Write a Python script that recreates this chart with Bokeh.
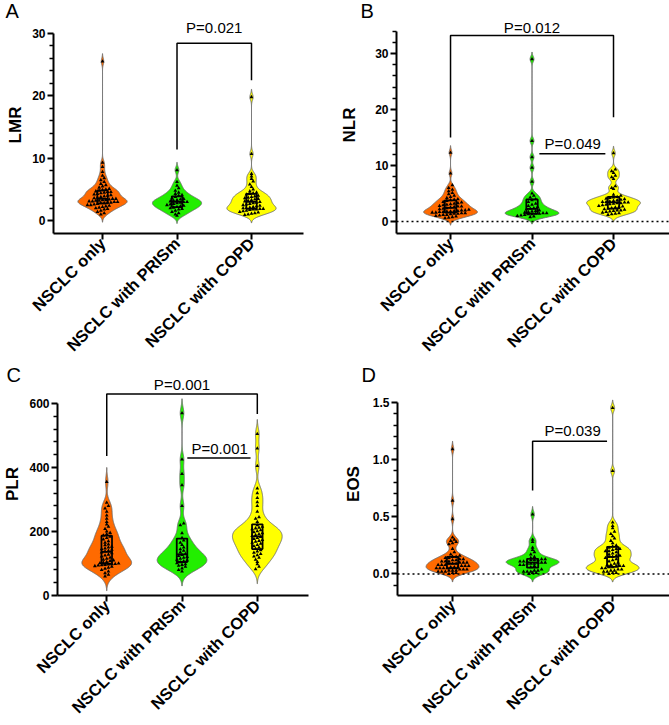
import numpy as np
from math import pi
from bokeh.plotting import figure
from bokeh.models import FixedTicker, Span
from bokeh.layouts import column, row
from bokeh.core.properties import value
from bokeh.embed import file_html
from bokeh.resources import INLINE

categories = ["NSCLC only", "NSCLC with PRISm", "NSCLC with COPD"]
colors = ["#FF6A00", "#22EE00", "#FFFF00"]

# ---- LMR ----
lmr_only = [25.5, 9.3, 8.6, 7.8, 7.2, 6.8, 6.5, 6.2, 5.9, 5.7, 5.5, 5.3, 5.1, 5.0, 4.9, 4.8, 4.7, 4.6, 4.6,
            4.5, 4.4, 4.3, 4.2, 4.1, 4.0, 3.9, 3.8, 3.7, 3.6, 3.5, 3.5, 3.4, 3.3, 3.3, 3.2, 3.2, 3.1, 3.1,
            3.0, 3.0, 2.9, 2.9, 2.8, 2.8, 2.7, 2.6, 2.5, 2.5, 2.4, 2.3, 2.2, 2.1, 2.0, 1.9, 1.8, 1.6, 1.4,
            1.2, 1.0]
lmr_prism = [8.1, 6.2, 5.6, 5.2, 4.8, 4.5, 4.3, 4.1, 4.0, 3.8, 3.6, 3.5, 3.4, 3.3, 3.2, 3.1, 3.0, 3.0, 2.9,
             2.8, 2.7, 2.6, 2.5, 2.4, 2.3, 2.2, 2.1, 2.0, 1.9, 1.8, 1.6, 1.4, 1.2, 1.0, 0.8]
lmr_copd = [19.8, 10.7, 7.5, 7.1, 6.7, 6.3, 5.8, 5.4, 5.0, 4.7, 4.5, 4.4, 4.3, 4.2, 4.0, 3.9, 3.8, 3.7, 3.6,
            3.5, 3.4, 3.3, 3.2, 3.1, 3.0, 2.9, 2.8, 2.7, 2.6, 2.5, 2.4, 2.3, 2.2, 2.1, 2.0, 2.0, 1.9, 1.9,
            1.8, 1.8, 1.7, 1.6, 1.5, 1.4, 1.3, 1.2, 1.1, 1.0, 0.9]
# ---- NLR ----
nlr_only = [12.3, 8.6, 6.5, 6.0, 5.7, 5.4, 5.1, 4.9, 4.6, 4.4, 4.2, 4.0, 3.9, 3.8, 3.7, 3.5, 3.4, 3.3, 3.2,
            3.1, 3.0, 2.9, 2.8, 2.7, 2.7, 2.6, 2.5, 2.4, 2.3, 2.2, 2.1, 2.0, 2.0, 1.9, 1.9, 1.8, 1.8, 1.7,
            1.7, 1.6, 1.6, 1.5, 1.5, 1.4, 1.4, 1.3, 1.2, 1.2, 1.1, 1.0, 0.9, 0.8, 0.7, 0.6]
nlr_prism = [29.0, 14.4, 11.5, 9.6, 7.1, 5.0, 4.6, 4.3, 4.0, 3.8, 3.5, 3.2, 3.0, 2.8, 2.6, 2.4, 2.3, 2.2,
             2.0, 1.9, 1.8, 1.7, 1.6, 1.5, 1.5, 1.4, 1.4, 1.3, 1.3, 1.2, 1.1, 1.0, 0.9, 0.8]
nlr_copd = [12.2, 9.3, 9.0, 8.7, 8.2, 7.9, 7.6, 6.3, 6.0, 5.8, 4.8, 4.6, 4.4, 4.3, 4.2, 4.1, 4.0, 3.9, 3.8,
            3.7, 3.6, 3.5, 3.5, 3.4, 3.4, 3.3, 3.3, 3.2, 3.1, 3.0, 2.9, 2.8, 2.7, 2.6, 2.5, 2.4, 2.3, 2.2,
            2.1, 2.0, 2.0, 1.9, 1.8, 1.7, 1.6, 1.5, 1.4, 1.3, 1.2]
# ---- PLR ----
plr_only = [355, 290, 280, 272, 262, 250, 240, 230, 222, 215, 208, 200, 196, 192, 188, 184, 180, 175, 170,
            165, 160, 157, 153, 150, 147, 145, 143, 140, 138, 135, 132, 128, 125, 122, 118, 115, 112, 110,
            108, 105, 103, 101, 100, 99, 98, 97, 96, 95, 94, 92, 90, 87, 84, 80, 75, 70, 65, 60]
plr_prism = [570, 425, 380, 345, 280, 225, 220, 195, 180, 172, 165, 158, 150, 145, 140, 135, 130, 127, 124,
             121, 118, 115, 112, 110, 107, 104, 101, 98, 96, 93, 90, 85, 80, 75]
plr_copd = [505, 460, 405, 335, 320, 305, 292, 280, 262, 245, 240, 230, 220, 215, 212, 210, 207, 204, 201,
            198, 195, 192, 189, 186, 183, 180, 177, 174, 171, 168, 165, 162, 158, 154, 150, 146, 142, 138,
            134, 130, 126, 122, 118, 112, 105, 98, 90, 82]
# ---- EOS ----
eos_only = [1.09, 0.64, 0.48, 0.32, 0.30, 0.29, 0.28, 0.27, 0.26, 0.22, 0.19, 0.17, 0.16, 0.15, 0.15, 0.14,
            0.14, 0.13, 0.13, 0.12, 0.12, 0.11, 0.11, 0.11, 0.10, 0.10, 0.10, 0.09, 0.09, 0.09, 0.08, 0.08,
            0.08, 0.07, 0.07, 0.07, 0.06, 0.06, 0.06, 0.05, 0.05, 0.05, 0.05, 0.04, 0.04, 0.04, 0.03, 0.03,
            0.03, 0.02, 0.02, 0.02, 0.01, 0.01, 0.00]
eos_prism = [0.52, 0.30, 0.28, 0.23, 0.21, 0.19, 0.17, 0.15, 0.14, 0.13, 0.13, 0.12, 0.12, 0.12, 0.11, 0.11,
             0.11, 0.10, 0.10, 0.10, 0.09, 0.09, 0.09, 0.08, 0.08, 0.07, 0.06, 0.04, 0.03, 0.03, 0.02, 0.02,
             0.02, 0.01, 0.01, 0.00]
eos_copd = [1.45, 0.90, 0.45, 0.42, 0.40, 0.37, 0.35, 0.33, 0.31, 0.29, 0.27, 0.25, 0.24, 0.23, 0.22, 0.22,
            0.21, 0.20, 0.20, 0.19, 0.18, 0.17, 0.16, 0.16, 0.15, 0.15, 0.14, 0.13, 0.12, 0.11, 0.10, 0.09,
            0.08, 0.08, 0.07, 0.07, 0.07, 0.06, 0.06, 0.05, 0.05, 0.04, 0.04, 0.03, 0.03, 0.02, 0.02, 0.01,
            0.01, 0.00]

# significance annotations: (x_from, x_to, bar_y, left_leg_bottom, right_leg_bottom, text, text_x, text_y)
lmr_sig = [(2, 3, 28.4, 11.4, 22.5, "P=0.021", 2.5, 30.9)]
nlr_sig = [(1, 3, 33.2, 15.0, 18.6, "P=0.012", 2.0, 34.7),
           (2.09, 2.90, 12.1, None, None, "P=0.049", 2.5, 13.9)]
plr_sig = [(1, 3, 630, 436, 567, "P=0.001", 2.0, 658),
           (2.07, 2.91, 430, None, None, "P=0.001", 2.5, 458)]
eos_sig = [(2, 2.93, 1.16, 0.73, None, "P=0.039", 2.5, 1.25)]

FONT = value("Liberation Sans")


def kde_profile(vals, bw, n=400):
    v = np.asarray(vals, dtype=float)
    ys = np.linspace(v.min() - 2.5 * bw, v.max() + 2.5 * bw, n)
    d = np.exp(-0.5 * ((ys[:, None] - v[None, :]) / bw) ** 2).sum(axis=1)
    return ys, d / d.max()


def swarm(vals, binh, step):
    v = np.sort(np.asarray(vals, dtype=float))
    keys = np.floor(v / binh + 0.5)
    offs = np.zeros(len(v))
    for k in np.unique(keys):
        idx = np.where(keys == k)[0]
        n = len(idx)
        offs[idx] = (np.arange(n) - (n - 1) / 2.0) * step
    return v, offs


def panel(letter, ylabel, groups, sig, width, height, borders, xr, yr, ticks, minors, bounds,
          bw, binh, title_standoff, title_offset, labels=None, zero_line=False, ylabel_standoff=6):
    bl, br, bt, bb = borders
    p = figure(width=width, height=height, x_range=xr, y_range=yr, output_backend="svg",
               toolbar_location=None, min_border_left=bl, min_border_right=br,
               min_border_top=bt, min_border_bottom=bb)
    p.grid.visible = False
    p.outline_line_color = None
    p.background_fill_color = "white"

    p.title.text = letter
    p.title.text_font = "Liberation Sans"
    p.title.text_font_size = "20px"
    p.title.text_font_style = "normal"
    p.title.text_color = "black"
    p.title.align = "left"
    p.title.vertical_align = "bottom"
    p.title.offset = title_offset
    p.title.standoff = title_standoff

    if zero_line:
        p.add_layout(Span(location=0, dimension="width", line_color="black", line_width=1.5,
                          line_dash="2 3"))

    halfw = 0.33
    for i, (vals, col) in enumerate(zip(groups, colors)):
        cx = i + 1
        ys, d = kde_profile(vals, bw)
        xs = np.concatenate([cx + halfw * d, (cx - halfw * d)[::-1]])
        yy = np.concatenate([ys, ys[::-1]])
        p.patch(xs, yy, fill_color=col, line_color="#6b6b6b", line_width=0.9)

    for i, vals in enumerate(groups):
        cx = i + 1
        v, offs = swarm(vals, binh, 0.045)
        p.scatter(cx + offs, v, marker="triangle", size=3.8, fill_color="black", line_color=None)
        q1, med, q3 = np.percentile(vals, [25, 50, 75])
        p.quad(left=[cx - 0.07], right=[cx + 0.07], bottom=[q1], top=[q3], fill_alpha=0,
               line_color="black", line_width=1.8)
        p.segment(x0=[cx - 0.07], x1=[cx + 0.07], y0=[med], y1=[med], line_color="black", line_width=1.8)

    for (x1, x2, yb, l1, l2, txt, tx, ty) in sig:
        px, py = [], []
        if l1 is not None:
            px.append(x1); py.append(l1)
        px += [x1, x2]; py += [yb, yb]
        if l2 is not None:
            px.append(x2); py.append(l2)
        p.line(px, py, line_color="black", line_width=1.5)
        p.text(x=[tx], y=[ty], text=[txt], text_align="center", text_baseline="middle",
               text_font=FONT, text_font_size="15px", text_color="black")

    ya = p.yaxis[0]
    ya.ticker = FixedTicker(ticks=ticks, minor_ticks=minors)
    ya.bounds = bounds
    if labels is not None:
        ya.major_label_overrides = labels
    ya.axis_label = ylabel
    ya.axis_label_text_font = "Liberation Sans"
    ya.axis_label_text_font_style = "bold"
    ya.axis_label_text_font_size = "17px"
    ya.axis_label_text_color = "black"
    ya.axis_label_standoff = ylabel_standoff
    ya.major_label_text_font = "Liberation Sans"
    ya.major_label_text_font_style = "bold"
    ya.major_label_text_font_size = "12px"
    ya.major_label_text_color = "black"
    ya.major_label_standoff = 2
    ya.axis_line_width = 2
    ya.major_tick_line_width = 2
    ya.major_tick_out = 6
    ya.major_tick_in = 0
    ya.minor_tick_out = 4
    ya.minor_tick_in = 0
    ya.minor_tick_line_width = 1.5

    xa = p.xaxis[0]
    xa.ticker = FixedTicker(ticks=[1, 2, 3])
    xa.major_label_overrides = {1: categories[0], 2: categories[1], 3: categories[2]}
    xa.major_label_orientation = pi / 4
    xa.major_label_text_font = "Liberation Sans"
    xa.major_label_text_font_style = "bold"
    xa.major_label_text_font_size = "16.5px"
    xa.major_label_text_color = "black"
    xa.major_label_standoff = 1
    xa.axis_line_width = 2
    xa.major_tick_line_width = 2
    xa.major_tick_out = 6
    xa.major_tick_in = 0
    xa.minor_tick_line_color = None
    return p


pA = panel("A", "LMR", [lmr_only, lmr_prism, lmr_copd], lmr_sig, 334, 365, (53, 31, 16, 130),
           (0.342, 3.698), (-2.06, 32.7), [0, 10, 20, 30],
           [v for v in range(2, 30, 2) if v % 10], (-2.06, 30), 0.5, 0.55, -11, -48, ylabel_standoff=4)
pB = panel("B", "NLR", [nlr_only, nlr_prism, nlr_copd], nlr_sig, 335, 365, (62, 0, 16, 132),
           (0.337, 3.687), (-2.14, 36.6), [0, 10, 20, 30],
           [v for v in range(2, 36, 2) if v % 10], (-2.14, 34), 0.5, 0.62, -11, -36, zero_line=True,
           ylabel_standoff=13)
pC = panel("C", "PLR", [plr_only, plr_prism, plr_copd], plr_sig, 334, 360, (53, 26, 7, 123),
           (0.346, 3.68), (0, 697), [0, 200, 400, 600],
           [v for v in range(40, 600, 40) if v % 200], (0, 600), 18, 10.6, -26, -51, ylabel_standoff=4)
pD = panel("D", "EOS", [eos_only, eos_prism, eos_copd], eos_sig, 335, 360, (63, 0, 7, 125),
           (0.3125, 3.71), (-0.188, 1.76), [0, 0.5, 1.0, 1.5],
           [round(v * 0.1, 1) for v in range(-1, 15) if v % 5], (-0.188, 1.5), 0.028, 0.03, -26, -36,
           labels={0: "0.0", 0.5: "0.5", 1: "1.0", 1.5: "1.5"}, zero_line=True, ylabel_standoff=7)

layout = column(row(pA, pB), row(pC, pD))
open("out.html", "w").write(file_html(layout, INLINE))
